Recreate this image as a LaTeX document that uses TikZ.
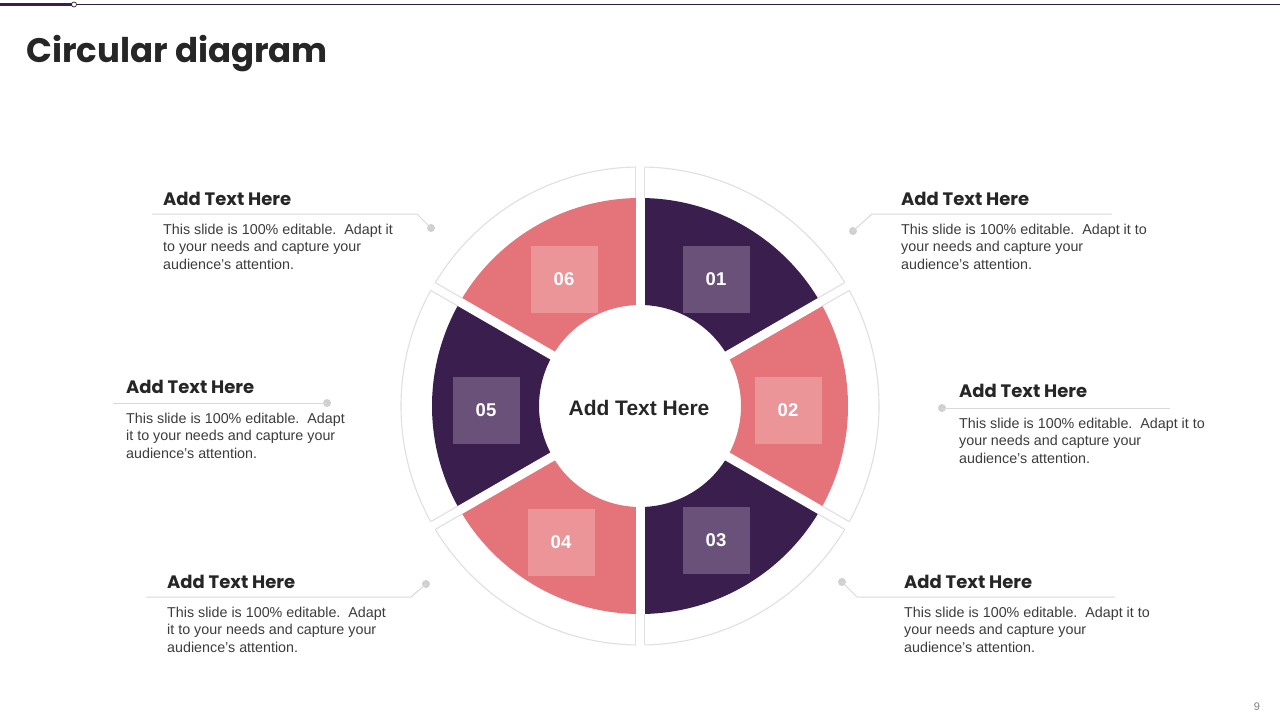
\documentclass[tikz,border=0pt]{standalone}
\usepackage{fontspec}
\setmainfont{Liberation Sans}
\newfontfamily\headfont{Poppins}
\usetikzlibrary{calc}
\definecolor{purp}{HTML}{3A1E4E}
\definecolor{pinkc}{HTML}{E4747A}
\definecolor{purpsq}{HTML}{6A5179}
\definecolor{pinksq}{HTML}{EB9599}
\definecolor{ringgray}{HTML}{E0E0E0}
\definecolor{linegray}{HTML}{D9D9D9}
\definecolor{dotgray}{HTML}{D0D0D0}
\definecolor{bodygray}{HTML}{3C3C3C}
\definecolor{titledark}{HTML}{262626}
\definecolor{topline}{HTML}{2E2238}
\tikzset{
  sq/.style={minimum size=67pt, inner sep=0pt, text=white, font=\bfseries\fontsize{18.5}{20}\selectfont},
  ringline/.style={draw=ringgray, line width=1.1pt},
  callline/.style={draw=linegray, line width=1pt},
  dotnode/.style={circle, fill=dotgray, minimum size=8pt, inner sep=0pt},
  ctitle/.style={anchor=west, inner sep=0pt, text=titledark, font=\headfont\bfseries\fontsize{18}{20}\selectfont},
  cbody/.style={anchor=north west, inner sep=0pt, align=left, text=bodygray, font=\fontsize{14.3}{17.5}\selectfont},
}
\begin{document}
\begin{tikzpicture}[x=1pt,y=-1pt]
\useasboundingbox (0,0) rectangle (1280,720);
\fill[white] (0,0) rectangle (1280,720);
% top rule
\coordinate (tl0) at (0,4.5);
\coordinate (tl1) at (1280,4.5);
\coordinate (tlm) at (72,4.5);
\draw[topline, line width=1pt] (tl0) -- (tl1);
\draw[purp, line width=3pt] (tl0) -- (tlm);
\node[circle, draw=topline, fill=white, line width=0.7pt, minimum size=5pt, inner sep=0pt] (tlc) at (74,4.5) {};
% title
\node[anchor=base west, inner sep=0pt, text=titledark, font=\headfont\bfseries\fontsize{34}{40}\selectfont] (title) at (26,62) {Circular diagram};
% ring
\coordinate (C) at (640,406);
\draw[ringline] (C) circle (239);
\foreach \a/\b/\c in {-90/-30/purp, -30/30/pinkc, 30/90/purp, 90/150/pinkc, 150/210/purp, 210/270/pinkc}{
  \fill[\c] ($(C)+(\a:208)$) arc[start angle=\a, end angle=\b, radius=208] -- ($(C)+(\b:101)$) arc[start angle=\b, end angle=\a, radius=101] -- cycle;
}
\foreach \a in {-90,-30,30,90,150,210}{
  \draw[white, line width=9pt] (C) -- ($(C)+(\a:250)$);
  \draw[ringline] ($(C)+(\a:208)+(\a+90:4.5)$) -- ($(C)+(\a:239)+(\a+90:4.5)$);
  \draw[ringline] ($(C)+(\a:208)+(\a-90:4.5)$) -- ($(C)+(\a:239)+(\a-90:4.5)$);
}
\node[text=titledark, font=\bfseries\fontsize{21}{24}\selectfont] (ctr) at (639,408) {Add Text Here};
% squares
\node[sq, fill=purpsq] (n01) at (716,279) {01};
\node[sq, fill=pinksq] (n02) at (788,410) {02};
\node[sq, fill=purpsq] (n03) at (716,540) {03};
\node[sq, fill=pinksq] (n04) at (561,542) {04};
\node[sq, fill=purpsq] (n05) at (486,410) {05};
\node[sq, fill=pinksq] (n06) at (564,279) {06};
% callout top-left
\node[dotnode] (d6) at (431,228) {};
\coordinate (s6) at (152,214);
\coordinate (k6) at (417,214);
\draw[callline] (s6) -- (k6) -- (d6.center);
\node[ctitle] (t6) at (163,199) {Add Text Here};
\node[cbody] (b6) at (163,223.5) {This slide is 100\% editable.\ \ Adapt it\\to your needs and capture your\\audience's attention.};
% callout top-right
\node[dotnode] (d1) at (853,231) {};
\coordinate (k1) at (872,214);
\coordinate (s1) at (1112,214);
\draw[callline] (d1.center) -- (k1) -- (s1);
\node[ctitle] (t1) at (901,199) {Add Text Here};
\node[cbody] (b1) at (901,223.5) {This slide is 100\% editable.\ \ Adapt it to\\your needs and capture your\\audience's attention.};
% callout middle-left
\node[dotnode] (d5) at (327,403) {};
\coordinate (s5) at (113,403);
\draw[callline] (s5) -- (d5.center);
\node[ctitle] (t5) at (126,387) {Add Text Here};
\node[cbody] (b5) at (126,412.5) {This slide is 100\% editable.\ \ Adapt\\it to your needs and capture your\\audience's attention.};
% callout middle-right
\node[dotnode] (d2) at (942,408) {};
\coordinate (s2) at (1170,408);
\draw[callline] (d2.center) -- (s2);
\node[ctitle] (t2) at (959,391) {Add Text Here};
\node[cbody] (b2) at (959,417.5) {This slide is 100\% editable.\ \ Adapt it to\\your needs and capture your\\audience's attention.};
% callout bottom-left
\node[dotnode] (d4) at (426,584) {};
\coordinate (s4) at (146,597);
\coordinate (k4) at (411,597);
\draw[callline] (s4) -- (k4) -- (d4.center);
\node[ctitle] (t4) at (167,582) {Add Text Here};
\node[cbody] (b4) at (167,606.5) {This slide is 100\% editable.\ \ Adapt\\it to your needs and capture your\\audience's attention.};
% callout bottom-right
\node[dotnode] (d3) at (842,582) {};
\coordinate (k3) at (857,597);
\coordinate (s3) at (1115,597);
\draw[callline] (d3.center) -- (k3) -- (s3);
\node[ctitle] (t3) at (904,582) {Add Text Here};
\node[cbody] (b3) at (904,606.5) {This slide is 100\% editable.\ \ Adapt it to\\your needs and capture your\\audience's attention.};
% page number
\node[text=gray, font=\fontsize{11}{13}\selectfont] (pg) at (1257,707) {9};
\end{tikzpicture}
\end{document}
